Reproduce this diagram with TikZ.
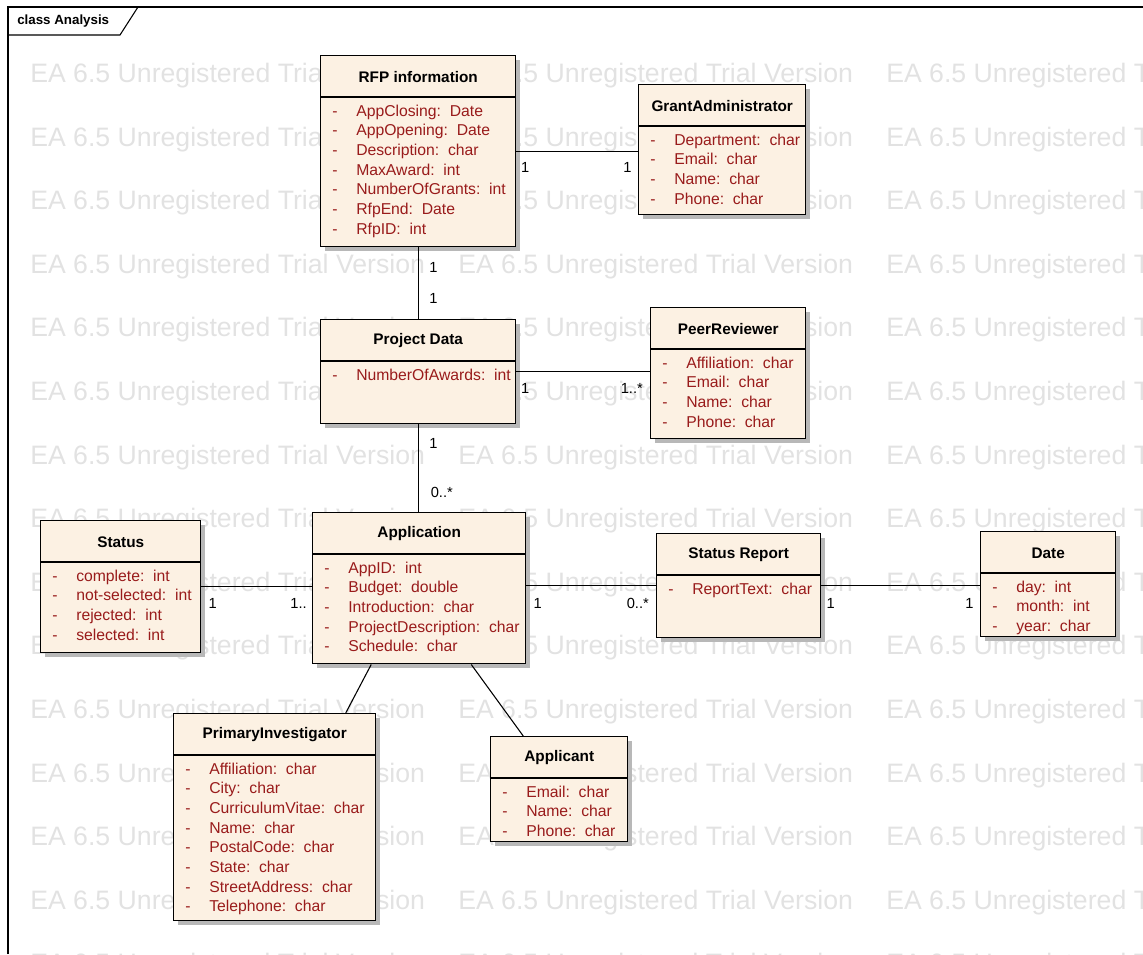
\documentclass[tikz,border=0pt]{standalone}
\usepackage{fontspec}
\setmainfont{Liberation Sans}
\usetikzlibrary{calc,shadows}

\definecolor{umlfill}{RGB}{252,241,227}
\definecolor{attrred}{RGB}{153,27,27}
\definecolor{wmgray}{RGB}{226,226,226}

\tikzset{
  classbox/.style={draw=black, line width=1.1pt, fill=umlfill, inner sep=0pt, anchor=north west,
    drop shadow={shadow xshift=3pt, shadow yshift=-3pt, fill=black!28, opacity=1}},
  classtitle/.style={font=\fontsize{11.5}{13}\selectfont\bfseries, inner sep=0pt},
  attr/.style={font=\fontsize{11.8}{13}\selectfont, text=attrred, inner sep=0pt, anchor=base west},
  mult/.style={font=\fontsize{11}{13}\selectfont, inner sep=0pt},
  assoc/.style={line width=0.8pt},
  watermark/.style={font=\fontsize{20}{24}\selectfont, text=wmgray, inner sep=0pt, anchor=base west}
}

% name, left, top, width, height, title, attributes (name/type)
\newcommand{\umlclass}[7]{
  \node[classbox, minimum width=#4*0.75pt, minimum height=#5*0.75pt] (#1) at (#2,#3) {};
  \node[classtitle] (#1-title) at ($(#1.north)+(0,22)$) {#6};
  \draw[line width=1.1pt] ($(#1.north west)+(0,42)$) -- ($(#1.north east)+(0,42)$);
  \foreach \aname/\atype [count=\i] in {#7} {
    \node[attr] (#1-d\i) at ($(#1.north west)+(12,61+19.7*\i-19.7)$) {-};
    \node[attr] (#1-a\i) at ($(#1.north west)+(36,61+19.7*\i-19.7)$) {\aname:\ \ \atype};
  }
}

\begin{document}
\begin{tikzpicture}[x=0.75pt, y=-0.75pt]
  \useasboundingbox (0,0) rectangle (1143,954);

  % watermark
  \begin{scope}
    \clip (0,0) rectangle (1143,954);
    \foreach \r in {0,...,14}
      \foreach \c in {0,1,2}
        \node[watermark] (wm-\r-\c) at (30+428*\c, 82.5+63.6*\r) {EA 6.5 Unregistered Trial Version};
  \end{scope}

  % frame
  \draw[line width=0.8pt] (8,954) -- (8,7) -- (1143,7);
  \draw[line width=0.8pt] (8,35) -- (120,35) -- (138,7);
  \node[font=\fontsize{10}{12}\selectfont\bfseries, inner sep=0pt, anchor=west] (frame-title) at (17,21) {class Analysis};

  % classes
  \umlclass{rfp}{320}{55}{195}{191}{RFP information}
    {AppClosing/Date, AppOpening/Date, Description/char, MaxAward/int, NumberOfGrants/int, RfpEnd/Date, RfpID/int}
  \umlclass{grant}{638}{84}{167}{130}{GrantAdministrator}
    {Department/char, Email/char, Name/char, Phone/char}
  \umlclass{project}{320}{319}{195}{104}{Project Data}
    {NumberOfAwards/int}
  \umlclass{peer}{650}{307}{155}{131}{PeerReviewer}
    {Affiliation/char, Email/char, Name/char, Phone/char}
  \umlclass{app}{312}{512}{213}{151}{Application}
    {AppID/int, Budget/double, Introduction/char, ProjectDescription/char, Schedule/char}
  \umlclass{status}{40}{520}{160}{132}{Status}
    {complete/int, not-selected/int, rejected/int, selected/int}
  \umlclass{report}{656}{533}{164}{104}{Status Report}
    {ReportText/char}
  \umlclass{date}{980}{531}{135}{105}{Date}
    {day/int, month/int, year/char}
  \umlclass{pi}{173}{713}{202}{207}{PrimaryInvestigator}
    {Affiliation/char, City/char, CurriculumVitae/char, Name/char, PostalCode/char, State/char, StreetAddress/char, Telephone/char}
  \umlclass{applicant}{490}{736}{137}{105}{Applicant}
    {Email/char, Name/char, Phone/char}

  % associations
  \draw[assoc] (rfp.east) -- (rfp.east -| grant.west)
    node[mult, pos=0, anchor=north west, xshift=3pt, yshift=-8pt] (m-rfp-g) {1}
    node[mult, pos=1, anchor=north east, xshift=-4.5pt, yshift=-8pt] (m-g-rfp) {1};
  \draw[assoc] (rfp.south) -- (rfp.south |- project.north)
    node[mult, pos=0, anchor=north west, xshift=8pt, yshift=-10.5pt] (m-rfp-p) {1}
    node[mult, pos=1, anchor=south west, xshift=8pt, yshift=11pt] (m-p-rfp) {1};
  \draw[assoc] (project.east) -- (project.east -| peer.west)
    node[mult, pos=0, anchor=north west, xshift=3pt, yshift=-8pt] (m-p-peer) {1}
    node[mult, pos=1, anchor=north east, xshift=-5pt, yshift=-8pt] (m-peer-p) {1..*};
  \draw[assoc] (project.south) -- (project.south |- app.north)
    node[mult, pos=0, anchor=north west, xshift=8pt, yshift=-10pt] (m-p-app) {1}
    node[mult, pos=1, anchor=south west, xshift=9pt, yshift=10pt] (m-app-p) {0..*};
  \draw[assoc] (status.east) -- (status.east -| app.west)
    node[mult, pos=0, anchor=north west, xshift=5pt, yshift=-8pt] (m-s-app) {1}
    node[mult, pos=1, anchor=north east, xshift=-3.5pt, yshift=-8pt] (m-app-s) {1..};
  \draw[assoc] (report.west -| app.east) -- (report.west)
    node[mult, pos=0, anchor=north west, xshift=5pt, yshift=-9pt] (m-app-r) {1}
    node[mult, pos=1, anchor=north east, xshift=-5pt, yshift=-9pt] (m-r-app) {0..*};
  \draw[assoc] (report.east) -- (report.east -| date.west)
    node[mult, pos=0, anchor=north west, xshift=3.5pt, yshift=-9pt] (m-r-d) {1}
    node[mult, pos=1, anchor=north east, xshift=-4.5pt, yshift=-9pt] (m-d-r) {1};
  \draw[assoc] ($(app.south)+(-48,0)$) -- ($(pi.north)+(71,0)$);
  \draw[assoc] ($(app.south)+(52,0)$) -- ($(applicant.north)+(-36,0)$);
\end{tikzpicture}
\end{document}
